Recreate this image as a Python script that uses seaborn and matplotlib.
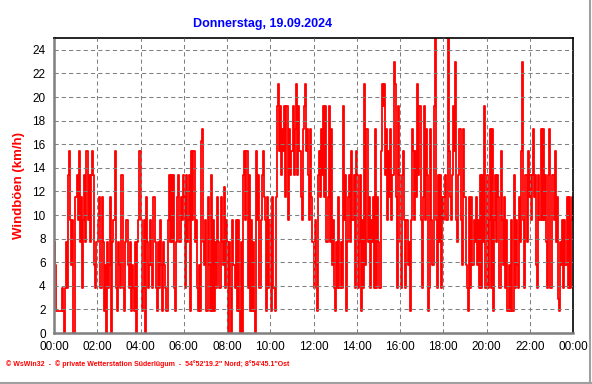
import numpy as np
import pandas as pd
import matplotlib
matplotlib.use("Agg")
import matplotlib.pyplot as plt
from matplotlib.lines import Line2D
from matplotlib.ticker import MultipleLocator
import seaborn as sns

# Windböen in km/h, ein Wert alle 3 Minuten, eine Liste pro Stunde
boeen_00 = [7.7, 5.8, 1.9, 1.9, 1.9, 1.9, 1.9, 3.8, 1.9, 0.0, 3.8, 7.7, 3.8, 13.4, 15.4, 9.6, 5.8, 9.6, 0.0, 11.5]
boeen_01 = [11.5, 13.4, 9.6, 15.4, 7.7, 11.5, 3.8, 9.6, 13.4, 7.7, 15.4, 9.6, 13.4, 7.7, 13.4, 15.4, 13.4, 5.8, 3.8, 7.7]
boeen_02 = [7.7, 9.6, 11.5, 3.8, 11.5, 7.7, 1.9, 5.8, 0.0, 7.7, 3.8, 5.8, 11.5, 0.0, 7.7, 9.6, 15.4, 3.8, 1.9, 7.7]
boeen_03 = [5.8, 3.8, 13.4, 13.4, 3.8, 1.9, 7.7, 9.6, 5.8, 3.8, 7.7, 1.9, 5.8, 3.8, 1.9, 7.7, 0.0, 7.7, 9.6, 15.4]
boeen_04 = [9.6, 1.9, 3.8, 9.6, 0.0, 11.5, 7.7, 3.8, 5.8, 9.6, 5.8, 3.8, 11.5, 7.7, 3.8, 1.9, 7.7, 3.8, 9.6, 5.8]
boeen_05 = [1.9, 7.7, 5.8, 3.8, 1.9, 9.6, 13.4, 7.7, 13.4, 7.7, 13.4, 3.8, 1.9, 7.7, 11.5, 13.4, 7.7, 11.5, 9.6, 13.4]
boeen_06 = [11.5, 3.8, 13.4, 7.7, 9.6, 13.4, 1.9, 15.4, 9.6, 15.4, 7.7, 9.6, 3.8, 1.9, 5.8, 1.9, 16.3, 17.3, 7.7, 5.8]
boeen_07 = [9.6, 1.9, 11.5, 5.8, 1.9, 13.4, 1.9, 9.6, 1.9, 7.7, 3.8, 11.5, 7.7, 3.8, 11.5, 7.7, 5.8, 12.4, 3.8, 9.6]
boeen_08 = [7.7, 0.0, 7.7, 3.8, 0.0, 9.6, 5.8, 3.8, 9.6, 1.9, 9.6, 1.9, 0.0, 7.7, 0.0, 13.4, 15.4, 9.6, 15.4, 3.8]
boeen_09 = [13.4, 1.9, 9.6, 1.9, 7.7, 1.9, 0.0, 15.4, 9.6, 13.4, 3.8, 9.6, 13.4, 15.4, 11.5, 9.6, 1.9, 11.5, 3.8, 9.6]
boeen_10 = [9.6, 1.9, 11.5, 3.8, 1.9, 11.5, 19.2, 21.1, 15.4, 19.2, 13.4, 17.3, 15.4, 19.2, 11.5, 19.2, 9.6, 17.3, 13.4, 15.4]
boeen_11 = [15.4, 19.2, 13.4, 17.3, 21.1, 13.4, 19.2, 15.4, 11.5, 9.6, 17.3, 19.2, 21.1, 15.4, 17.3, 13.4, 9.6, 17.3, 11.5, 7.7]
boeen_12 = [3.8, 9.6, 5.8, 1.9, 13.4, 15.4, 11.5, 17.3, 13.4, 19.2, 11.5, 19.2, 7.7, 11.5, 19.2, 7.7, 17.3, 5.8, 9.6, 3.8]
boeen_13 = [1.9, 7.7, 3.8, 11.5, 3.8, 7.7, 3.8, 19.2, 9.6, 13.4, 1.9, 7.7, 11.5, 13.4, 7.7, 15.4, 9.6, 13.4, 3.8, 15.4]
boeen_14 = [13.4, 3.8, 7.7, 13.4, 1.9, 9.6, 3.8, 21.1, 5.8, 17.3, 7.7, 11.5, 3.8, 9.6, 7.7, 11.5, 3.8, 17.3, 3.8, 11.5]
boeen_15 = [7.7, 3.8, 15.4, 21.1, 19.2, 21.1, 13.4, 17.3, 9.6, 15.4, 11.5, 17.3, 9.6, 13.4, 23.0, 21.1, 11.5, 3.8, 19.2, 13.4]
boeen_16 = [7.7, 3.8, 13.4, 15.4, 9.6, 3.8, 9.6, 5.8, 7.7, 1.9, 9.6, 17.3, 15.4, 9.6, 15.4, 11.5, 21.1, 13.4, 19.2, 9.6]
boeen_17 = [3.8, 11.5, 19.2, 9.6, 17.3, 13.4, 1.9, 3.8, 17.3, 9.6, 5.8, 19.2, 25.0, 9.6, 3.8, 13.4, 7.7, 13.4, 3.8, 11.5]
boeen_18 = [9.6, 11.5, 13.4, 9.6, 25.0, 15.4, 11.5, 9.6, 13.4, 19.2, 15.4, 23.0, 9.6, 7.7, 13.4, 17.3, 9.6, 5.8, 17.3, 11.5]
boeen_19 = [11.5, 5.8, 3.8, 1.9, 11.5, 3.8, 11.5, 5.8, 9.6, 7.7, 11.5, 5.8, 9.6, 3.8, 13.4, 3.8, 13.4, 7.7, 19.2, 3.8]
boeen_20 = [13.4, 3.8, 9.6, 17.3, 3.8, 17.3, 1.9, 9.6, 13.4, 7.7, 13.4, 11.5, 3.8, 15.4, 9.6, 5.8, 11.5, 3.8, 9.6, 1.9]
boeen_21 = [1.9, 5.8, 1.9, 9.6, 1.9, 13.4, 3.8, 9.6, 5.8, 3.8, 11.5, 7.7, 15.4, 23.0, 9.6, 3.8, 13.4, 7.7, 15.4, 11.5]
boeen_22 = [13.4, 9.6, 13.4, 17.3, 11.5, 13.4, 5.8, 3.8, 13.4, 9.6, 17.3, 9.6, 17.3, 9.6, 13.4, 7.7, 3.8, 13.4, 17.3, 3.8]
boeen_23 = [3.8, 13.4, 9.6, 15.4, 7.7, 11.5, 2.9, 1.9, 7.7, 5.8, 9.6, 3.8, 9.6, 5.8, 11.5, 3.8, 11.5, 3.8, 9.6, 11.5]
MINUTEN_PRO_WERT = 3

X_TICKS = [0, 2, 4, 6, 8, 10, 12, 14, 16, 18, 20, 22, 24]
X_LABELS = ["00:00", "02:00", "04:00", "06:00", "08:00", "10:00", "12:00",
            "14:00", "16:00", "18:00", "20:00", "22:00", "00:00"]
Y_TICKS = [0, 2, 4, 6, 8, 10, 12, 14, 16, 18, 20, 22, 24]

TITEL = "Donnerstag, 19.09.2024"
Y_LABEL = "Windböen (km/h)"
FUSSZEILE = "© WsWin32  -  © private Wetterstation Süderlügum  -  54°52'19.2\" Nord; 8°54'45.1\"Ost"

GRAU = "#808080"

stunden = [boeen_00, boeen_01, boeen_02, boeen_03, boeen_04, boeen_05,
           boeen_06, boeen_07, boeen_08, boeen_09, boeen_10, boeen_11,
           boeen_12, boeen_13, boeen_14, boeen_15, boeen_16, boeen_17,
           boeen_18, boeen_19, boeen_20, boeen_21, boeen_22, boeen_23]
werte = [v for h in stunden for v in h]
df = pd.DataFrame({
    "stunde": np.arange(len(werte)) * MINUTEN_PRO_WERT / 60.0,
    "kmh": werte,
})

sns.set_style("white")
plt.rcParams["font.family"] = ["Liberation Sans", "DejaVu Sans"]

fig = plt.figure(figsize=(5.92, 3.84), dpi=100)
ax = fig.add_axes([54 / 592, 1 - 333 / 384, 519 / 592, 295 / 384])

# dicke Linie, damit die dichte Minutenkurve wie im Original fast flächig wirkt
sns.lineplot(data=df, x="stunde", y="kmh", color="#ff0000", linewidth=1.3,
             drawstyle="steps-post", estimator=None, sort=False,
             legend=False, ax=ax)

ax.set_xlim(0, 24)
ax.set_ylim(0, 25)
ax.set_xticks(X_TICKS, X_LABELS)
ax.set_yticks(Y_TICKS)
ax.xaxis.set_minor_locator(MultipleLocator(0.5))
ax.yaxis.set_minor_locator(MultipleLocator(1))

ax.grid(True, which="major", color=GRAU, linestyle=(0, (4, 3)), linewidth=0.75)
ax.set_axisbelow(False)

for s in ["left", "bottom"]:
    ax.spines[s].set_color(GRAU)
    ax.spines[s].set_linewidth(1.8)
for s in ["top", "right"]:
    ax.spines[s].set_color("black")
    ax.spines[s].set_linewidth(1.2)

ax.tick_params(axis="both", which="major", direction="out", length=3.5,
               width=1, color=GRAU, labelsize=8.5, labelcolor="black", pad=2.5)
ax.tick_params(axis="both", which="minor", direction="out", length=2.5,
               width=1, color=GRAU)

ax.set_xlabel("")
ax.set_ylabel(Y_LABEL, color="#ff0000", fontsize=9.5, fontweight="bold")
ax.yaxis.set_label_coords(-29 / 519, 0.5)

fig.text(263 / 592, 1 - 24 / 384, TITEL, ha="center", va="center",
         color="#0000ff", fontsize=9, fontweight="bold")
fig.text(6 / 592, 1 - 364 / 384, FUSSZEILE, ha="left", va="center",
         color="#ff0000", fontsize=5, fontweight="bold")

# grauer Rahmen rechts und unten
fig.add_artist(Line2D([589.5 / 592, 589.5 / 592], [0, 1], transform=fig.transFigure,
                      color="#a0a0a0", linewidth=1.5))
fig.add_artist(Line2D([0, 1], [1.5 / 384, 1.5 / 384], transform=fig.transFigure,
                      color="#a0a0a0", linewidth=1.5))

fig.savefig("out.png", dpi=100)
plt.close(fig)
